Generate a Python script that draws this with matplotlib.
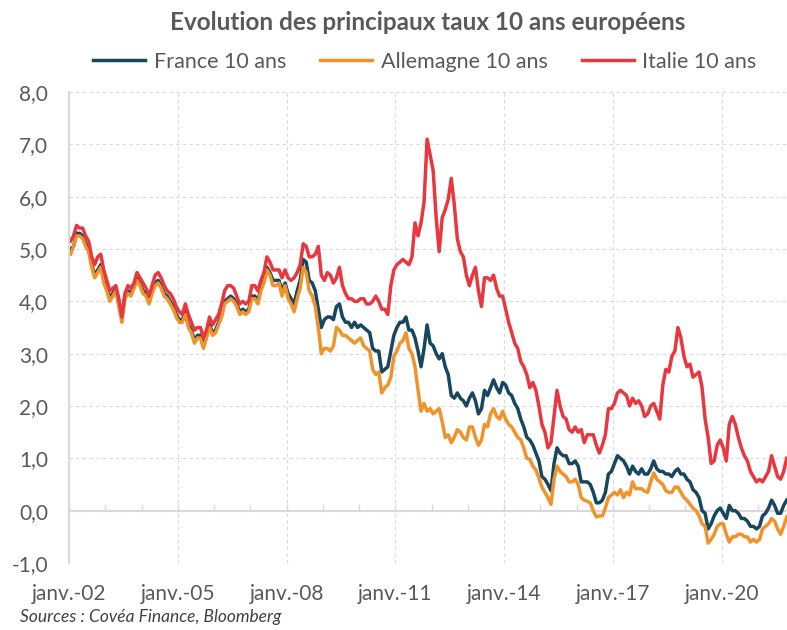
import numpy as np
import matplotlib.pyplot as plt
from matplotlib.ticker import FuncFormatter, MultipleLocator

plt.rcParams['font.family'] = ['Lato', 'DejaVu Sans']

# taux 10 ans, valeurs mensuelles (janv. 2002 -> oct. 2021)
allemagne = [
    4.90, 5.05, 5.25, 5.25, 5.20, 5.05, 4.95, 4.65, 4.45, 4.55, 4.65, 4.35,
    4.20, 4.00, 4.10, 4.20, 3.90, 3.60, 4.05, 4.15, 4.10, 4.25, 4.40, 4.30,
    4.15, 4.10, 3.95, 4.15, 4.30, 4.35, 4.25, 4.10, 4.05, 3.95, 3.85, 3.70,
    3.60, 3.60, 3.75, 3.50, 3.40, 3.20, 3.30, 3.30, 3.10, 3.30, 3.50, 3.35,
    3.40, 3.55, 3.70, 3.95, 4.00, 4.05, 4.00, 3.90, 3.75, 3.80, 3.75, 3.80,
    4.05, 4.05, 3.95, 4.20, 4.35, 4.60, 4.50, 4.30, 4.30, 4.35, 4.10, 4.30,
    4.05, 3.95, 3.80, 4.05, 4.25, 4.65, 4.55, 4.20, 4.10, 3.90, 3.50, 3.00,
    3.10, 3.10, 3.05, 3.15, 3.50, 3.45, 3.35, 3.35, 3.30, 3.25, 3.20, 3.25,
    3.30, 3.15, 3.10, 3.05, 2.70, 2.60, 2.65, 2.25, 2.35, 2.40, 2.55, 2.95,
    3.05, 3.20, 3.25, 3.40, 3.10, 3.00, 2.75, 2.30, 1.90, 2.05, 1.90, 1.95,
    1.85, 1.90, 1.95, 1.70, 1.40, 1.45, 1.30, 1.40, 1.55, 1.50, 1.40, 1.35,
    1.60, 1.60, 1.40, 1.25, 1.35, 1.65, 1.60, 1.85, 1.95, 1.80, 1.75, 1.90,
    1.75, 1.65, 1.60, 1.50, 1.40, 1.35, 1.20, 1.00, 0.98, 0.85, 0.78, 0.62,
    0.45, 0.35, 0.25, 0.12, 0.60, 0.85, 0.75, 0.70, 0.65, 0.55, 0.55, 0.60,
    0.50, 0.25, 0.20, 0.18, 0.15, 0.00, -0.12, -0.10, -0.10, 0.05, 0.25, 0.30,
    0.35, 0.30, 0.40, 0.25, 0.35, 0.30, 0.55, 0.42, 0.42, 0.42, 0.37, 0.35,
    0.55, 0.72, 0.60, 0.55, 0.50, 0.38, 0.35, 0.35, 0.45, 0.45, 0.35, 0.25,
    0.20, 0.12, 0.05, 0.00, -0.10, -0.25, -0.30, -0.62, -0.55, -0.45, -0.30, -0.25,
    -0.25, -0.45, -0.60, -0.50, -0.50, -0.45, -0.45, -0.50, -0.50, -0.60, -0.55, -0.60,
    -0.55, -0.35, -0.30, -0.25, -0.15, -0.20, -0.35, -0.45, -0.30, -0.12,
]
france = [
    5.00, 5.05, 5.30, 5.30, 5.25, 5.10, 5.00, 4.70, 4.50, 4.60, 4.70, 4.45,
    4.30, 4.05, 4.15, 4.25, 3.95, 3.70, 4.10, 4.20, 4.15, 4.30, 4.45, 4.35,
    4.20, 4.15, 4.00, 4.20, 4.35, 4.40, 4.30, 4.15, 4.10, 4.00, 3.90, 3.75,
    3.65, 3.65, 3.80, 3.55, 3.45, 3.25, 3.35, 3.35, 3.15, 3.35, 3.55, 3.40,
    3.45, 3.60, 3.75, 4.00, 4.05, 4.10, 4.05, 3.95, 3.80, 3.85, 3.80, 3.85,
    4.10, 4.10, 4.00, 4.25, 4.40, 4.65, 4.55, 4.40, 4.40, 4.40, 4.20, 4.35,
    4.15, 4.05, 3.95, 4.20, 4.40, 4.80, 4.75, 4.40, 4.35, 4.20, 3.85, 3.50,
    3.65, 3.70, 3.70, 3.65, 3.90, 3.95, 3.70, 3.60, 3.60, 3.50, 3.60, 3.50,
    3.55, 3.50, 3.45, 3.40, 3.10, 3.05, 3.05, 2.65, 2.70, 2.75, 3.05, 3.35,
    3.50, 3.60, 3.60, 3.70, 3.45, 3.45, 3.30, 3.05, 2.75, 3.10, 3.55, 3.20,
    3.15, 3.00, 2.90, 3.00, 2.75, 2.60, 2.20, 2.15, 2.25, 2.15, 2.10, 2.00,
    2.15, 2.25, 2.10, 1.85, 1.95, 2.30, 2.20, 2.35, 2.50, 2.35, 2.25, 2.45,
    2.40, 2.25, 2.20, 2.05, 1.95, 1.75, 1.60, 1.40, 1.35, 1.25, 1.10, 0.95,
    0.65, 0.60, 0.50, 0.38, 0.90, 1.20, 1.10, 1.05, 1.05, 0.90, 0.90, 0.95,
    0.85, 0.55, 0.55, 0.55, 0.50, 0.35, 0.15, 0.15, 0.20, 0.35, 0.70, 0.75,
    0.90, 1.05, 1.00, 0.95, 0.85, 0.70, 0.85, 0.75, 0.70, 0.80, 0.70, 0.70,
    0.80, 0.95, 0.80, 0.75, 0.75, 0.70, 0.70, 0.65, 0.75, 0.80, 0.70, 0.70,
    0.60, 0.55, 0.40, 0.35, 0.25, 0.00, -0.05, -0.35, -0.25, -0.10, 0.00, 0.05,
    -0.05, -0.15, 0.10, 0.00, 0.00, -0.05, -0.15, -0.15, -0.20, -0.30, -0.30, -0.35,
    -0.30, -0.10, -0.05, 0.05, 0.20, 0.10, -0.05, -0.05, 0.10, 0.20,
]
italie = [
    5.15, 5.25, 5.45, 5.40, 5.40, 5.25, 5.15, 4.85, 4.70, 4.85, 4.90, 4.60,
    4.40, 4.20, 4.25, 4.30, 4.05, 3.70, 4.15, 4.30, 4.25, 4.35, 4.55, 4.45,
    4.35, 4.25, 4.10, 4.30, 4.50, 4.55, 4.45, 4.30, 4.20, 4.15, 4.05, 3.90,
    3.80, 3.75, 3.95, 3.75, 3.60, 3.45, 3.50, 3.50, 3.30, 3.45, 3.70, 3.55,
    3.65, 3.75, 3.95, 4.20, 4.30, 4.30, 4.25, 4.10, 3.95, 4.00, 3.95, 4.00,
    4.30, 4.30, 4.20, 4.40, 4.55, 4.85, 4.75, 4.60, 4.60, 4.60, 4.45, 4.60,
    4.45, 4.40, 4.45, 4.55, 4.70, 5.10, 5.05, 4.85, 4.85, 4.90, 5.05, 4.50,
    4.40, 4.55, 4.50, 4.35, 4.45, 4.65, 4.30, 4.15, 4.05, 4.05, 4.00, 4.00,
    4.05, 4.05, 3.95, 3.95, 4.00, 4.10, 4.00, 3.85, 3.85, 3.75, 4.30, 4.60,
    4.70, 4.75, 4.80, 4.75, 4.70, 4.85, 5.50, 5.25, 5.50, 5.90, 7.10, 6.80,
    6.50, 5.60, 4.95, 5.60, 5.75, 5.95, 6.35, 5.85, 5.20, 4.95, 4.85, 4.50,
    4.30, 4.50, 4.65, 4.20, 3.90, 4.45, 4.45, 4.40, 4.50, 4.25, 4.10, 4.10,
    3.85, 3.60, 3.40, 3.20, 3.10, 2.85, 2.75, 2.60, 2.35, 2.45, 2.30, 2.00,
    1.65, 1.50, 1.20, 1.30, 1.80, 2.30, 2.00, 1.80, 1.75, 1.55, 1.50, 1.60,
    1.50, 1.55, 1.30, 1.45, 1.45, 1.45, 1.25, 1.10, 1.25, 1.45, 1.95, 1.95,
    2.05, 2.25, 2.30, 2.25, 2.20, 2.00, 2.15, 2.05, 2.10, 2.00, 1.80, 1.85,
    2.00, 2.05, 1.90, 1.75, 2.40, 2.70, 2.65, 2.95, 3.05, 3.50, 3.30, 2.95,
    2.75, 2.80, 2.55, 2.60, 2.65, 2.35, 1.75, 1.40, 0.90, 0.95, 1.25, 1.35,
    1.20, 0.95, 1.65, 1.80, 1.65, 1.40, 1.20, 1.05, 0.95, 0.75, 0.65, 0.55,
    0.60, 0.55, 0.65, 0.75, 1.05, 0.85, 0.65, 0.60, 0.75, 1.00,
]

mois = 2002 + np.arange(len(france)) / 12 + 1 / 24
annees_labels = [2002, 2005, 2008, 2011, 2014, 2017, 2020]
labels = ['janv.-02', 'janv.-05', 'janv.-08', 'janv.-11', 'janv.-14', 'janv.-17', 'janv.-20']

gris = '#595959'
gris_ligne = '#D9D9D9'

fig = plt.figure(figsize=(7.87, 6.3), dpi=100)
ax = fig.add_axes([69 / 787, 1 - 563 / 630, 1 - 69 / 787, (563 - 92) / 630])

ax.plot(mois, france, color='#17465F', lw=2.5, label='France 10 ans')
ax.plot(mois, allemagne, color='#F0932B', lw=2.5, label='Allemagne 10 ans')
ax.plot(mois, italie, color='#E7383F', lw=2.5, label='Italie 10 ans')

ax.set_xlim(2002, 2021.8)
ax.set_ylim(-1, 8)
ax.yaxis.set_major_locator(MultipleLocator(1))
ax.yaxis.set_major_formatter(FuncFormatter(lambda v, p: f'{v:.1f}'.replace('.', ',')))
ax.set_xticks(annees_labels)
ax.set_xticklabels(labels)
ax.tick_params(axis='x', length=0, pad=15, labelsize=15, labelcolor=gris)
ax.tick_params(axis='y', length=0, pad=15, labelsize=15, labelcolor=gris)

ax.grid(True, color=gris_ligne, ls=(0, (3, 3)), lw=0.8)
ax.set_axisbelow(True)
for s in ['top', 'right', 'bottom']:
    ax.spines[s].set_visible(False)
ax.spines['left'].set_color(gris_ligne)
ax.spines['left'].set_linewidth(1.5)

# axe horizontal a 0 avec graduations annuelles
axe0 = ax.secondary_xaxis(1 / 9)
axe0.set_xticks(range(2002, 2022))
axe0.tick_params(direction='in', length=5, width=1, color=gris_ligne, labelbottom=False)
axe0.spines['bottom'].set_color(gris_ligne)
axe0.spines['bottom'].set_linewidth(1.5)

fig.text(428 / 787, 1 - 22 / 630, 'Evolution des principaux taux 10 ans européens',
         ha='center', va='center', fontsize=17.5, fontweight='bold', color=gris)
fig.legend(loc='center', bbox_to_anchor=(425 / 787, 1 - 62 / 630), ncol=3, frameon=False,
           fontsize=15.5, labelcolor=gris, handlelength=2.4, columnspacing=1.6, handletextpad=0.4)
fig.text(20 / 787, 1 - 617 / 630, 'Sources : Covéa Finance, Bloomberg',
         ha='left', va='center', fontsize=12.5, style='italic', color='#404040')

fig.savefig('out.png', dpi=100)
